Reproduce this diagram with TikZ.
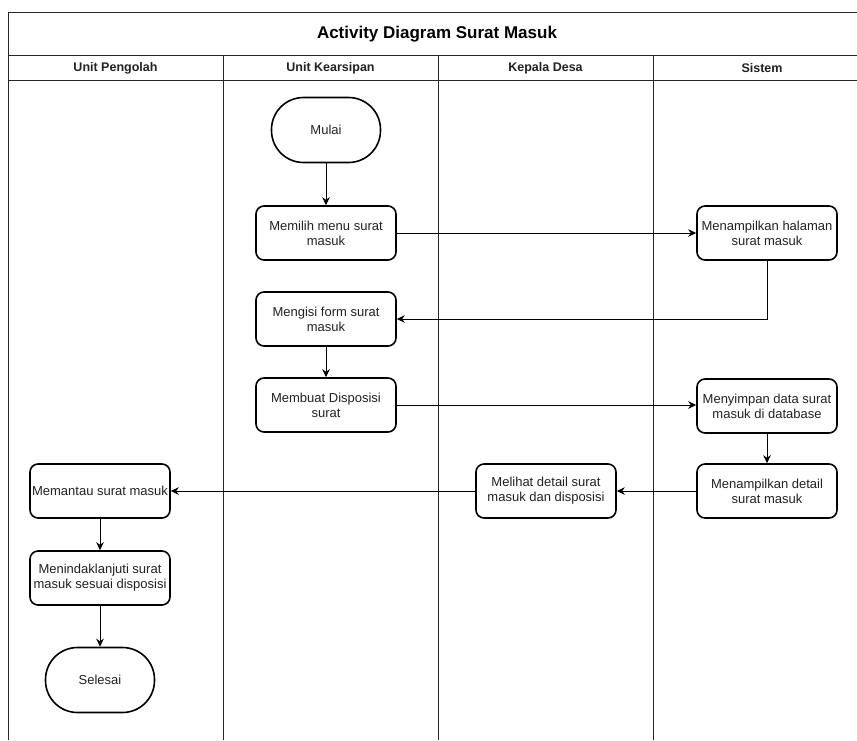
\documentclass[tikz,border=0pt]{standalone}
\usepackage{fontspec}
\setmainfont{Liberation Sans}
\usetikzlibrary{arrows.meta}
\definecolor{ink}{HTML}{222222}
\tikzset{
  frame/.style={line width=0.9pt, draw=black!85},
  act/.style={draw=black, line width=1.6pt, rounded corners=8pt, minimum width=140pt,
    minimum height=54pt, align=center, inner sep=0pt, font=\fontsize{13}{15}\selectfont, text=ink},
  term/.style={draw=black, line width=1.6pt, rounded corners=32pt, minimum width=109pt,
    minimum height=65pt, align=center, inner sep=0pt, font=\fontsize{13}{15}\selectfont, text=ink},
  flow/.style={line width=0.9pt, -{Stealth[length=8pt,width=7.5pt]}},
  lane/.style={font=\bfseries\fontsize{12.5}{14}\selectfont, text=ink},
}
\begin{document}
\begin{tikzpicture}[x=1pt,y=-1pt]
\useasboundingbox (0,0) rectangle (857,740);
\fill[white] (0,0) rectangle (857,740);

% pool frame and lanes
\draw[frame] (8,740) -- (8,12) -- (857,12);
\draw[frame] (8,55) -- (857,55);
\draw[frame] (8,80) -- (857,80);
\foreach \x in {223,438,653} \draw[frame] (\x,55) -- (\x,740);

\node[font=\bfseries\fontsize{17}{20}\selectfont] (title) at (437,34) {Activity Diagram Surat Masuk};
\node[lane] (l1) at (115.5,68) {Unit Pengolah};
\node[lane] (l2) at (330.5,68) {Unit Kearsipan};
\node[lane] (l3) at (545.5,68) {Kepala Desa};
\node[lane] (l4) at (762,68) {Sistem};

% activities
\node[term] (mulai) at (326,130) {Mulai};
\node[act] (pilih) at (326,233) {Memilih menu surat\\masuk};
\node[act] (halaman) at (767,233) {Menampilkan halaman\\surat masuk};
\node[act] (isi) at (326,319) {Mengisi form surat\\masuk};
\node[act] (dispo) at (326,405) {Membuat Disposisi\\surat};
\node[act] (simpan) at (767,406) {Menyimpan data surat\\masuk di database};
\node[act] (detail) at (767,491) {Menampilkan detail\\surat masuk};
\node[act] (lihat) at (546,491) {Melihat detail surat\\masuk dan disposisi};
\node[act] (pantau) at (100,491) {Memantau surat masuk};
\node[act] (tindak) at (100,578) {Menindaklanjuti surat\\masuk sesuai disposisi};
\node[term] (selesai) at (100,680) {Selesai};

% control flow
\draw[flow] (mulai) -- (pilih);
\draw[flow] (pilih) -- (halaman);
\draw[flow] (halaman.south) |- (isi.east);
\draw[flow] (isi) -- (dispo);
\draw[flow] (dispo.east) -- (dispo.east -| simpan.west);
\draw[flow] (simpan) -- (detail);
\draw[flow] (detail) -- (lihat);
\draw[flow] (lihat) -- (pantau);
\draw[flow] (pantau) -- (tindak);
\draw[flow] (tindak) -- (selesai);
\end{tikzpicture}
\end{document}
